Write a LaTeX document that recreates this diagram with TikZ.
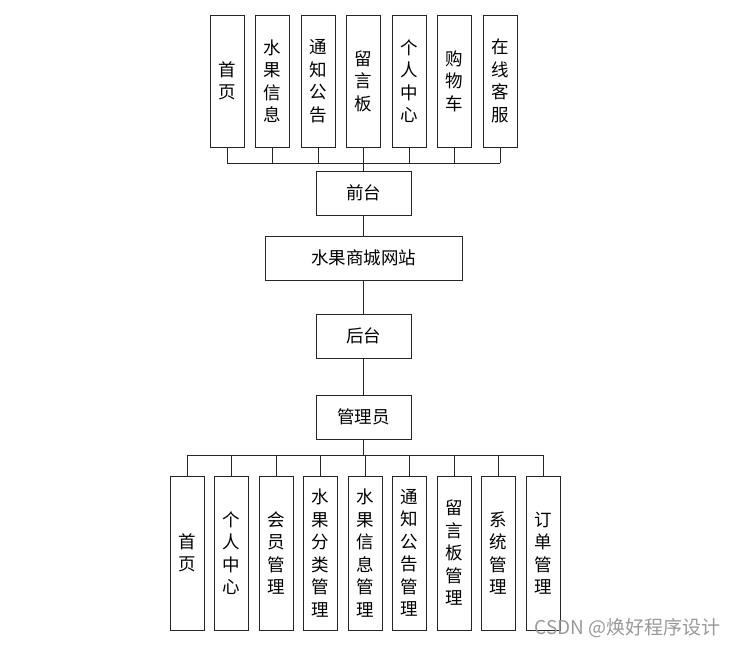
\documentclass[tikz,border=0pt]{standalone}
\usepackage{fontspec}
\newfontfamily\cjk{Noto Sans CJK SC}
\begin{document}
\begin{tikzpicture}[x=1pt,y=-1pt,
  box/.style={draw=black!85, line width=0.8pt, inner sep=0pt, font=\cjk\fontsize{17.5}{22.5}\selectfont, align=center},
  vbox/.style={box, minimum width=34pt, minimum height=132pt},
  lbox/.style={box, minimum width=34pt, minimum height=154pt},
  hbox/.style={box, minimum width=95pt, minimum height=44pt},
  conn/.style={draw=black!85, line width=0.8pt}]
\useasboundingbox (0,0) rectangle (736,648);
% top row
\node[vbox] (t1) at (227,81) {首\\页};
\node[vbox] (t2) at (272.5,81) {水\\果\\信\\息};
\node[vbox] (t3) at (318,81) {通\\知\\公\\告};
\node[vbox] (t4) at (363.5,81) {留\\言\\板};
\node[vbox] (t5) at (409,81) {个\\人\\中\\心};
\node[vbox] (t6) at (454.5,81) {购\\物\\车};
\node[vbox] (t7) at (500,81) {在\\线\\客\\服};
% middle
\node[hbox] (qt) at (363.5,193) {前台};
\node[hbox, minimum width=197pt] (site) at (363.5,258) {水果商城网站};
\node[hbox] (ht) at (363.5,336) {后台};
\node[hbox] (gly) at (363.5,417) {管理员};
% bottom row
\node[lbox] (b1) at (187,553) {首\\页};
\node[lbox] (b2) at (231.5,553) {个\\人\\中\\心};
\node[lbox] (b3) at (276,553) {会\\员\\管\\理};
\node[lbox] (b4) at (320,553) {水\\果\\分\\类\\管\\理};
\node[lbox] (b5) at (365,553) {水\\果\\信\\息\\管\\理};
\node[lbox] (b6) at (409,553) {通\\知\\公\\告\\管\\理};
\node[lbox] (b7) at (454,553) {留\\言\\板\\管\\理};
\node[lbox] (b8) at (498,553) {系\\统\\管\\理};
\node[lbox] (b9) at (543,553) {订\\单\\管\\理};
% connectors top
\coordinate (bt) at (363.5,163);
\foreach \i in {1,...,7} \draw[conn] (t\i.south) -- (t\i.south |- bt);
\draw[conn] (t1.south |- bt) -- (t7.south |- bt);
\draw[conn] (bt) -- (qt.north);
\draw[conn] (qt.south) -- (site.north);
\draw[conn] (site.south) -- (ht.north);
\draw[conn] (ht.south) -- (gly.north);
% connectors bottom
\coordinate (bb) at (363.5,455);
\draw[conn] (gly.south) -- (bb);
\draw[conn] (b1.north |- bb) -- (b9.north |- bb);
\foreach \i in {1,...,9} \draw[conn] (b\i.north |- bb) -- (b\i.north);
% watermark
\node[font=\cjk\fontsize{19}{22}\selectfont, text=black!40, anchor=east, inner sep=0pt] (wm) at (721,628) {CSDN @焕好程序设计};
\end{tikzpicture}
\end{document}
